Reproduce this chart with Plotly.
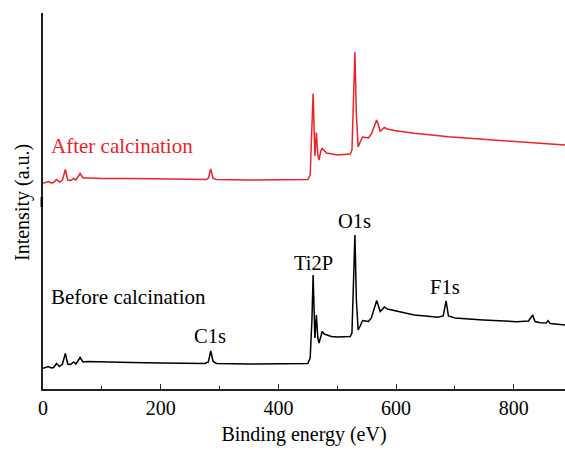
import plotly.graph_objects as go

# Binding energy (eV) and intensity (a.u.)
before_x = [0, 5, 9, 14, 18, 23, 28, 33, 38, 42, 47, 52, 56, 63, 68, 75, 100, 150, 200, 250, 275,
            281, 285, 289, 295, 350, 400, 440, 450, 454, 457, 459, 461, 462, 464.5, 467, 469, 472,
            474.5, 478, 482, 490, 500, 510, 522, 525, 527, 530, 532.5, 535.5, 539, 543, 548, 553,
            558, 562, 567, 570, 573, 577, 580, 585, 597, 615, 631, 650, 671, 680, 685, 689, 700,
            748, 780, 805, 825, 832, 836, 845, 855, 858, 862, 875, 887]
before_px = [368.3, 367.5, 366.5, 368, 367.5, 363.5, 366.5, 364, 353.5, 364, 364.5, 362, 364, 357.5,
             362, 361.5, 362, 362.5, 363, 363.5, 363.5, 362, 351, 361.5, 363.5, 364, 364, 364, 363.5,
             358, 320, 275, 320, 338, 315, 338, 343, 335, 331.5, 334, 335, 336.5, 337, 337, 336.5,
             333, 300, 235, 300, 330, 326, 320.5, 321, 321.5, 318, 311, 300.5, 306, 311.5, 309, 307,
             309, 310.5, 313, 315, 316, 317.3, 316, 301, 316, 318, 320, 321, 321.7, 321, 315, 321.5,
             322.7, 323, 320.7, 323.5, 324.5, 325]
before_y = [389 - v for v in before_px]

after_x = [0, 5, 9, 14, 18, 23, 28, 33, 38, 42, 47, 52, 56, 63, 68, 75, 100, 150, 200, 250, 278,
           281, 285, 289, 295, 350, 400, 440, 450, 454, 457, 459, 461, 462, 464.5, 467, 469, 472,
           474.5, 478, 482, 500, 510, 522, 525, 527, 530, 532.5, 535.5, 539, 543, 548, 553, 558,
           562, 567, 570, 573, 577, 580, 585, 597, 631, 689, 748, 805, 850, 887]
after_px = [183.3, 182.5, 181.5, 183, 182.5, 179.5, 182, 180, 169.5, 180, 180.5, 178.5, 180, 173.5,
            178, 178, 178.5, 178.5, 179, 179.5, 179.5, 178, 169, 178.5, 179.5, 180, 180, 180, 179.5,
            175, 135, 93.5, 135, 156, 132.5, 155, 160, 151, 148.5, 151, 153, 155, 154.5, 154, 150,
            115, 52, 115, 147, 142, 137, 137.5, 138, 134, 127, 120, 125, 131.5, 129, 127.5, 129,
            130.5, 133.3, 136.7, 139.3, 141.7, 143.5, 145]
after_y = [389 - v for v in after_px]

x_ticks = [0, 200, 400, 600, 800]

peak_labels = ["C1s", "Ti2P", "O1s", "F1s"]
peak_label_x = [284, 459, 530, 683]
peak_label_y = [53, 126, 168, 102]

RED = "#ec2229"
FONT = "Liberation Serif"

fig = go.Figure()
fig.add_trace(go.Scatter(x=before_x, y=before_y, mode="lines",
                         line=dict(color="black", width=1.5), name="Before calcination"))
fig.add_trace(go.Scatter(x=after_x, y=after_y, mode="lines",
                         line=dict(color=RED, width=1.5), name="After calcination"))

for t, x, y in zip(peak_labels, peak_label_x, peak_label_y):
    fig.add_annotation(x=x, y=y, text=t, showarrow=False, xanchor="center", yanchor="middle",
                       font=dict(family=FONT, size=20.5, color="black"))

fig.add_annotation(x=11, y=243, text="After calcination", showarrow=False, xanchor="left",
                   yanchor="middle", font=dict(family=FONT, size=21, color=RED))
fig.add_annotation(x=11, y=92, text="Before calcination", showarrow=False, xanchor="left",
                   yanchor="middle", font=dict(family=FONT, size=21, color="black"))

fig.add_annotation(xref="paper", yref="paper", x=-20 / 522, y=(389 - 203) / 376,
                   text="Intensity (a.u.)", textangle=-90, showarrow=False,
                   xanchor="center", yanchor="middle",
                   font=dict(family=FONT, size=20, color="black"))

fig.add_shape(type="line", xref="paper", yref="paper", x0=-1.2 / 522, x1=-1.2 / 522,
              y0=(389 - 207) / 376, y1=(389 - 197) / 376,
              line=dict(color="black", width=2.5))

fig.update_layout(
    width=565, height=451,
    margin=dict(l=43, r=0, t=13, b=62),
    plot_bgcolor="white", paper_bgcolor="white",
    showlegend=False,
    font=dict(family=FONT, size=20, color="black"),
    xaxis=dict(range=[0, 887], tickvals=x_ticks, ticks="inside", ticklen=5, tickwidth=1.3,
               tickcolor="#222", showline=True, linecolor="#222", linewidth=1.5,
               showgrid=False, zeroline=False,
               minor=dict(dtick=100, tick0=0, ticks="inside", ticklen=3, tickwidth=1.2,
                          tickcolor="#222", showgrid=False),
               title=dict(text="Binding energy (eV)", standoff=9,
                          font=dict(family=FONT, size=20)),
               tickfont=dict(family=FONT, size=20)),
    yaxis=dict(range=[0, 376], showticklabels=False, ticks="", showline=True,
               linecolor="#222", linewidth=1.5, showgrid=False, zeroline=False),
)

fig.write_html("out.html")
